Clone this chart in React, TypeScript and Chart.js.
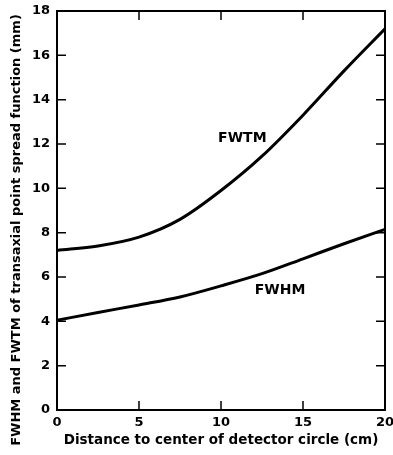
import React, { useEffect, useRef } from "react";
import { Chart, registerables } from "chart.js";

Chart.register(...registerables);

const distance = [0, 2.5, 5, 7.5, 10, 12.5, 15, 17.5, 20];
const fwtm = [7.2, 7.4, 7.8, 8.6, 9.9, 11.45, 13.3, 15.3, 17.2];
const fwhm = [4.05, 4.4, 4.74, 5.1, 5.6, 6.15, 6.82, 7.5, 8.15];

const xMin = 0;
const xMax = 20;
const xStep = 5;
const yMin = 0;
const yMax = 18;
const yStep = 2;

const xTitle = "Distance to center of detector circle (cm)";
const yTitle = "FWHM and FWTM of transaxial point spread function (mm)";

const seriesLabels = ["FWTM", "FWHM"];
const labelAnchorX = [11.3, 13.6];
const labelAnchorY = [12.27, 5.41];

const FONT = "'DejaVu Sans', sans-serif";

export default function App() {
  const ref = useRef<HTMLCanvasElement | null>(null);

  useEffect(() => {
    document.body.style.margin = "0";
    const canvas = ref.current;
    if (!canvas) return;

    const decor = {
      id: "decor",
      afterDraw(chart: any) {
        const ctx = chart.ctx;
        const xs = chart.scales.x;
        const ys = chart.scales.y;
        const left = xs.getPixelForValue(xMin);
        const right = xs.getPixelForValue(xMax);
        const top = ys.getPixelForValue(yMax);
        const bottom = ys.getPixelForValue(yMin);
        ctx.save();
        ctx.strokeStyle = "#000";
        ctx.lineWidth = 2;
        ctx.strokeRect(left, top, right - left, bottom - top);
        ctx.lineWidth = 1.5;
        const tl = 9;
        ctx.beginPath();
        for (let v = xMin + xStep; v < xMax; v += xStep) {
          const px = xs.getPixelForValue(v);
          ctx.moveTo(px, bottom);
          ctx.lineTo(px, bottom - tl);
          ctx.moveTo(px, top);
          ctx.lineTo(px, top + tl);
        }
        for (let v = yMin + yStep; v < yMax; v += yStep) {
          const py = ys.getPixelForValue(v);
          ctx.moveTo(left, py);
          ctx.lineTo(left + tl, py);
          ctx.moveTo(right, py);
          ctx.lineTo(right - tl, py);
        }
        ctx.stroke();

        ctx.fillStyle = "#000";
        ctx.textAlign = "center";
        ctx.textBaseline = "middle";
        ctx.font = `bold 14px ${FONT}`;
        for (let i = 0; i < seriesLabels.length; i++) {
          ctx.fillText(
            seriesLabels[i],
            xs.getPixelForValue(labelAnchorX[i]),
            ys.getPixelForValue(labelAnchorY[i])
          );
        }

        ctx.font = `bold 13.5px ${FONT}`;
        ctx.fillText(xTitle, (left + right) / 2, 440);
        ctx.translate(17, 230);
        ctx.rotate(-Math.PI / 2);
        ctx.font = `bold 13px ${FONT}`;
        ctx.fillText(yTitle, 0, 0);
        ctx.restore();
      },
    };

    const chart = new Chart(canvas, {
      type: "line",
      data: {
        datasets: [
          {
            label: seriesLabels[0],
            data: distance.map((d, i) => ({ x: d, y: fwtm[i] })),
            borderColor: "#000",
            borderWidth: 3,
            pointRadius: 0,
            cubicInterpolationMode: "monotone",
            fill: false,
          },
          {
            label: seriesLabels[1],
            data: distance.map((d, i) => ({ x: d, y: fwhm[i] })),
            borderColor: "#000",
            borderWidth: 3,
            pointRadius: 0,
            cubicInterpolationMode: "monotone",
            fill: false,
          },
        ],
      },
      options: {
        animation: false,
        responsive: false,
        devicePixelRatio: 1,
        layout: { padding: { top: 11, right: 8, left: 0, bottom: 0 } },
        plugins: {
          legend: { display: false },
          tooltip: { enabled: false },
          title: { display: false },
        },
        scales: {
          x: {
            type: "linear",
            min: xMin,
            max: xMax,
            grid: { display: false, drawTicks: false },
            border: { display: false },
            ticks: {
              stepSize: xStep,
              color: "#000",
              padding: 5,
              maxRotation: 0,
              font: { family: FONT, size: 13, weight: "bold" },
            },
            afterFit(scale: any) {
              scale.height = 45;
              scale.paddingLeft = 0;
              scale.paddingRight = 0;
            },
          },
          y: {
            type: "linear",
            min: yMin,
            max: yMax,
            grid: { display: false, drawTicks: false },
            border: { display: false },
            ticks: {
              stepSize: yStep,
              color: "#000",
              padding: 7,
              font: { family: FONT, size: 13, weight: "bold" },
            },
            afterFit(scale: any) {
              scale.width = 57;
              scale.paddingTop = 0;
              scale.paddingBottom = 0;
            },
          },
        },
      },
      plugins: [decor],
    } as any);

    return () => chart.destroy();
  }, []);

  return (
    <div style={{ width: 393, height: 455, background: "#fff" }}>
      <canvas ref={ref} width={393} height={455} style={{ width: 393, height: 455, display: "block" }} />
    </div>
  );
}
